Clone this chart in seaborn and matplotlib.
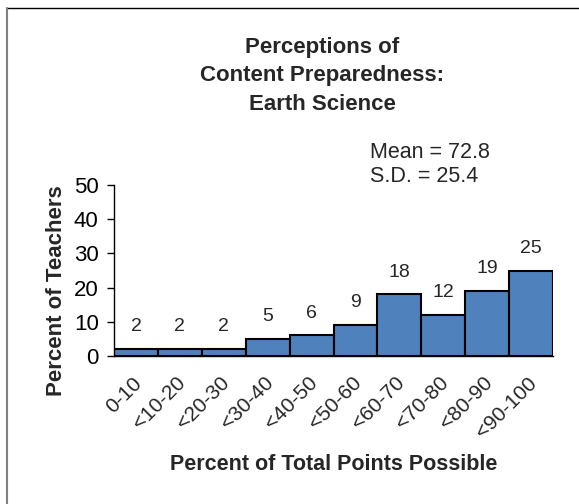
import matplotlib
matplotlib.use("Agg")
from matplotlib import pyplot as plt
from matplotlib.lines import Line2D
from matplotlib.transforms import ScaledTranslation
import seaborn as sns
import pandas as pd

# chart data
ranges = ['0-10', '<10-20', '<20-30', '<30-40', '<40-50',
          '<50-60', '<60-70', '<70-80', '<80-90', '<90-100']
percents = [2, 2, 2, 5, 6, 9, 18, 12, 19, 25]
mean_text = 'Mean = 72.8'
sd_text = 'S.D. = 25.4'

df = pd.DataFrame({'Range': ranges, 'Percent': percents})

sns.set_style('white')
plt.rcParams['font.family'] = ['Liberation Sans', 'DejaVu Sans']

fig = plt.figure(figsize=(5.79, 5.04), dpi=100)
ax = fig.add_axes([114 / 579, 1 - 356 / 504, (553 - 114) / 579, (356 - 185) / 504])

sns.barplot(data=df, x='Range', y='Percent', color='#4F81BD', saturation=1,
            width=1.0, edgecolor='black', linewidth=1.5, ax=ax)

for i, v in enumerate(percents):
    ax.annotate(str(v), (i, v), xytext=(0, 10), textcoords='offset points',
                ha='center', va='bottom', fontsize=14)

ax.set_xlim(-0.5, len(ranges) - 0.5)
ax.set_ylim(0, 50)
ax.set_yticks(range(0, 51, 10))
ax.tick_params(axis='y', which='both', left=True, length=5, width=1,
               direction='out', labelsize=16, colors='black', pad=6)
ax.tick_params(axis='x', bottom=False, labelsize=15, pad=9)
ax.set_xticks(range(len(ranges)))
ax.set_xticklabels(ranges, rotation=45, ha='right', rotation_mode='anchor')
shift = ScaledTranslation(-4 / 100, 0, fig.dpi_scale_trans)
for lab in ax.get_xticklabels():
    lab.set_transform(lab.get_transform() + shift)
for s in ['top', 'right']:
    ax.spines[s].set_visible(False)
for s in ['left', 'bottom']:
    ax.spines[s].set_color('black')
    ax.spines[s].set_linewidth(1)

ax.set_xlabel('')
ax.set_ylabel('')
fig.text(57 / 579, 1 - 291 / 504, 'Percent of Teachers', rotation=90,
         ha='center', va='center', fontsize=16, fontweight='bold')
fig.text(334 / 579, 1 - 465 / 504, 'Percent of Total Points Possible',
         ha='center', va='center', fontsize=15.5, fontweight='bold')

fig.text(322 / 579, 1 - 76 / 504,
         'Perceptions of\nContent Preparedness:\nEarth Science',
         ha='center', va='center', fontsize=16, fontweight='bold', linespacing=1.5)

fig.text(370 / 579, 1 - 153 / 504, mean_text, ha='left', va='center', fontsize=15.5)
fig.text(370 / 579, 1 - 176 / 504, sd_text, ha='left', va='center', fontsize=15.5)

# outer frame (only top and left edges fall inside the image)
fig.add_artist(Line2D([7 / 579, 1], [1 - 8 / 504, 1 - 8 / 504],
                      transform=fig.transFigure, color='black', linewidth=1))
fig.add_artist(Line2D([7 / 579, 7 / 579], [0, 1 - 8 / 504],
                      transform=fig.transFigure, color='#808080', linewidth=1.5))

plt.savefig('out.png', dpi=100)
